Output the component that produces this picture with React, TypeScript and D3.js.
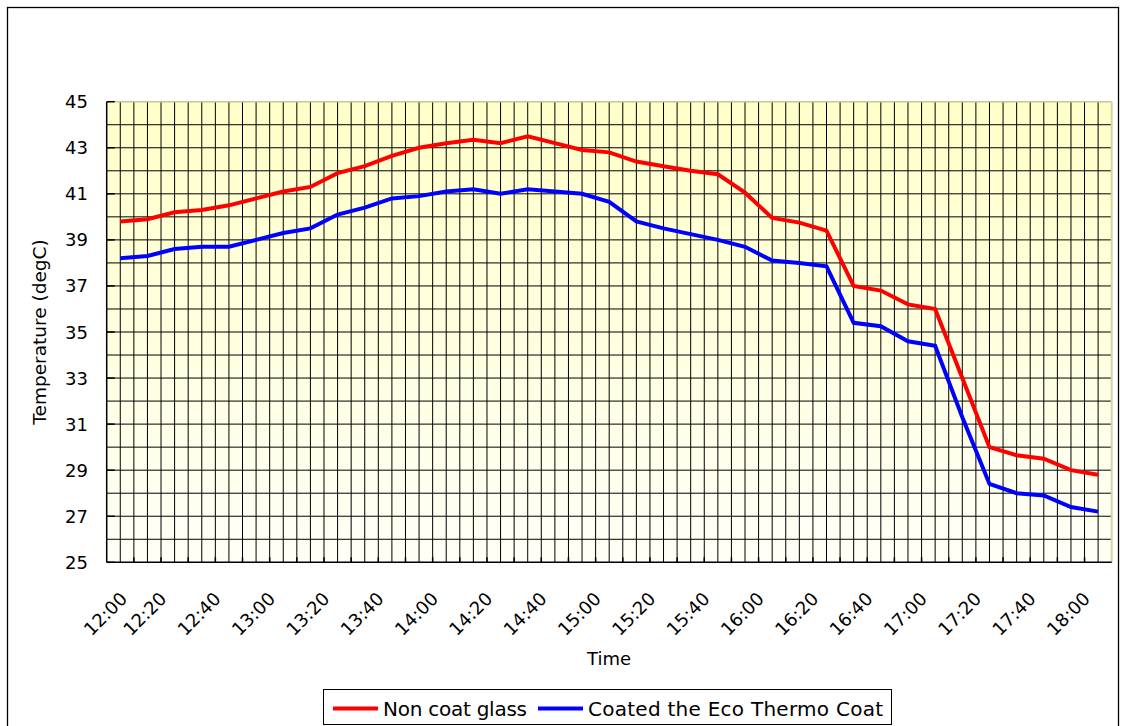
import React from "react";
import * as d3 from "d3";

const times: string[] = [
  "12:00","12:10","12:20","12:30","12:40","12:50",
  "13:00","13:10","13:20","13:30","13:40","13:50",
  "14:00","14:10","14:20","14:30","14:40","14:50",
  "15:00","15:10","15:20","15:30","15:40","15:50",
  "16:00","16:10","16:20","16:30","16:40","16:50",
  "17:00","17:10","17:20","17:30","17:40","17:50",
  "18:00",
];

const nonCoat: number[] = [
  39.8, 39.9, 40.2, 40.3, 40.5, 40.8,
  41.1, 41.3, 41.9, 42.2, 42.65, 43.0,
  43.2, 43.35, 43.2, 43.5, 43.2, 42.9,
  42.8, 42.4, 42.2, 42.0, 41.85, 41.05,
  39.95, 39.75, 39.4, 37.0, 36.8, 36.2,
  36.0, 33.0, 30.0, 29.65, 29.5, 29.0,
  28.8,
];

const coated: number[] = [
  38.2, 38.3, 38.6, 38.7, 38.7, 39.0,
  39.3, 39.5, 40.1, 40.4, 40.8, 40.9,
  41.1, 41.2, 41.0, 41.2, 41.1, 41.0,
  40.65, 39.8, 39.5, 39.25, 39.0, 38.7,
  38.1, 38.0, 37.85, 35.4, 35.25, 34.6,
  34.4, 31.3, 28.4, 28.0, 27.9, 27.4,
  27.2,
];

const yTicks: number[] = [25, 27, 29, 31, 33, 35, 37, 39, 41, 43, 45];
const yGrid: number[] = d3.range(25, 46, 1);

const seriesNames: string[] = ["Non coat glass", "Coated the Eco Thermo Coat"];
const seriesColors: string[] = ["#ff0000", "#0000ff"];

const W = 1122;
const H = 726;
const plot = { left: 106.7, right: 1111.7, top: 101.7, bottom: 562.3 };
const FONT = "'DejaVu Sans', sans-serif";

export default function App() {
  const x = d3
    .scalePoint<string>()
    .domain(times)
    .range([plot.left, plot.right])
    .padding(0.5);
  const y = d3.scaleLinear().domain([25, 45]).range([plot.bottom, plot.top]);
  const step = x.step();

  const line = d3
    .line<number>()
    .x((_, i) => x(times[i]) as number)
    .y((d) => y(d));

  const vLines: number[] = [];
  times.forEach((t, i) => {
    const c = x(t) as number;
    vLines.push(c);
    if (i > 0) vLines.push(c - step / 2);
  });
  const boundaries: number[] = times.slice(1).map((t) => (x(t) as number) - step / 2);

  const labelTimes = times.filter((_, i) => i % 2 === 0);

  const legend = { x: 323, y: 689, w: 568, h: 35 };
  const legendItems = [
    { sx: 333, tw: 144 },
    { sx: 538, tw: 295 },
  ];

  return (
    <div style={{ position: "fixed", left: 0, top: 0 }}>
      <svg width={W} height={H} style={{ display: "block", background: "#ffffff" }}>
        <defs>
          <linearGradient id="bg" x1="0" y1="0" x2="0" y2="1">
            <stop offset="0%" stopColor="#ffffc8" />
            <stop offset="100%" stopColor="#fffff6" />
          </linearGradient>
        </defs>
        <rect x={7.5} y={7.5} width={1111} height={740} fill="#ffffff" stroke="#000" strokeWidth={1.3} />

        <rect
          x={plot.left}
          y={plot.top}
          width={plot.right - plot.left}
          height={plot.bottom - plot.top}
          fill="url(#bg)"
        />

        {yGrid
          .filter((v) => v > 25 && v < 45)
          .map((v) => (
            <line key={"h" + v} x1={plot.left} x2={plot.right} y1={y(v)} y2={y(v)} stroke="#000" strokeWidth={1} />
          ))}
        {vLines.map((vx, i) => (
          <line key={"v" + i} x1={vx} x2={vx} y1={plot.top} y2={plot.bottom} stroke="#000" strokeWidth={1} />
        ))}
        <line x1={plot.left} x2={plot.right} y1={y(45)} y2={y(45)} stroke="#c9c69a" strokeWidth={1.5} />
        <line x1={plot.right} x2={plot.right} y1={plot.top} y2={plot.bottom} stroke="#d6d3a8" strokeWidth={2} />

        <line x1={plot.left} x2={plot.left} y1={plot.top} y2={plot.bottom} stroke="#000" strokeWidth={1.5} />
        <line x1={plot.left} x2={plot.right} y1={plot.bottom} y2={plot.bottom} stroke="#000" strokeWidth={1.5} />

        {yTicks.map((v) => (
          <g key={"yt" + v}>
            <line x1={plot.left} x2={plot.left + 8} y1={y(v)} y2={y(v)} stroke="#000" strokeWidth={1.5} />
            <text
              x={88}
              y={y(v)}
              textAnchor="end"
              dominantBaseline="central"
              fontFamily={FONT}
              fontSize={18}
              fill="#000"
            >
              {v}
            </text>
          </g>
        ))}

        {boundaries.map((bx, i) => (
          <line key={"xt" + i} x1={bx} x2={bx} y1={plot.bottom} y2={plot.bottom - 5} stroke="#000" strokeWidth={1.5} />
        ))}

        {labelTimes.map((t, i) => {
          const cx = (x(t) as number) - 7 + (i === 0 ? 15 : 0);
          const cy = 600;
          return (
            <text
              key={"xl" + t}
              transform={`translate(${cx},${cy}) rotate(-45)`}
              textAnchor="end"
              fontFamily={FONT}
              fontSize={18}
              fill="#000"
            >
              {t}
            </text>
          );
        })}

        {[nonCoat, coated].map((s, k) => (
          <path
            key={"s" + k}
            d={line(s) as string}
            fill="none"
            stroke={seriesColors[k]}
            strokeWidth={4}
            strokeLinejoin="miter"
          />
        ))}

        <text x={609} y={665} textAnchor="middle" fontFamily={FONT} fontSize={18} fill="#000">
          Time
        </text>
        <text
          transform={`translate(46,${(plot.top + plot.bottom) / 2}) rotate(-90)`}
          textAnchor="middle"
          fontFamily={FONT}
          fontSize={18.5}
          fill="#000"
        >
          Temperature (degC)
        </text>

        <rect x={legend.x + 0.5} y={legend.y + 0.5} width={legend.w} height={legend.h} fill="#fff" stroke="#000" strokeWidth={1} />
        {legendItems.map((it, k) => {
          const ly = legend.y + legend.h / 2 + 2;
          return (
            <g key={"lg" + k}>
              <line x1={it.sx} x2={it.sx + 45} y1={ly} y2={ly} stroke={seriesColors[k]} strokeWidth={4} />
              <text
                x={it.sx + 50}
                y={ly}
                dominantBaseline="central"
                fontFamily={FONT}
                fontSize={20}
                textLength={it.tw}
                lengthAdjust="spacing"
                fill="#000"
              >
                {seriesNames[k]}
              </text>
            </g>
          );
        })}
      </svg>
    </div>
  );
}
